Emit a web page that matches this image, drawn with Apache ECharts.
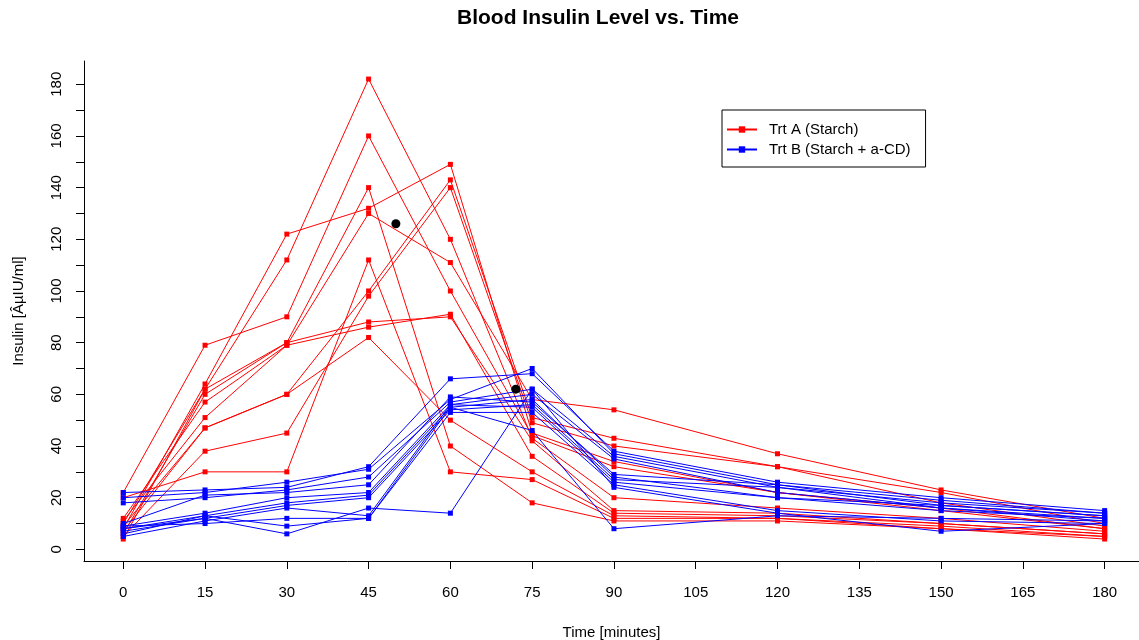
<!DOCTYPE html>
<html>
<head>
<meta charset="utf-8">
<title>Blood Insulin Level vs. Time</title>
<script src="https://cdn.jsdelivr.net/npm/echarts@6/dist/echarts.min.js"></script>
<style>
  html, body { margin: 0; padding: 0; background: #fff; }
  #main { width: 1139px; height: 640px; }
</style>
</head>
<body>
<div id="main"></div>
<script>
// sampling times (minutes)
var times = [0, 15, 30, 45, 60, 75, 90, 120, 150, 180];

// Trt A (Starch) - one row per subject
var trtA = [
	[22, 79, 90, 160, 100, 44, 32, 22, 15, 8],
	[20, 30, 30, 112, 30, 27, 12, 12, 8, 5],
	[8, 64, 122, 132, 149, 45, 34, 22, 16, 8],
	[4, 62, 112, 182, 120, 43, 20, 16, 12, 7],
	[10, 62, 80, 140, 40, 18, 11, 11, 8, 4],
	[6, 60, 80, 88, 90, 42, 15, 14, 10, 6],
	[12, 57, 79, 130, 111, 58, 54, 37, 23, 12],
	[11, 51, 79, 86, 91, 36, 14, 13, 10, 6],
	[9, 47, 60, 100, 143, 51, 43, 32, 22, 10],
	[7, 47, 60, 82, 50, 30, 13, 12, 9, 5],
	[5, 38, 45, 98, 140, 49, 40, 32, 18, 9]
];

// Trt B (Starch + a-CD)
var trtB = [
	[22, 23, 24, 32, 66, 68, 38, 26, 20, 15],
	[20, 22, 26, 31, 58, 70, 37, 25, 19, 14],
	[18, 20, 23, 28, 57, 62, 36, 24, 18, 14],
	[10, 21, 22, 25, 59, 57, 29, 25, 17, 13],
	[9, 14, 20, 22, 56, 60, 35, 22, 16, 12],
	[8, 13, 18, 21, 55, 58, 28, 20, 17, 13],
	[7, 12, 17, 20, 54, 56, 27, 24, 16, 11],
	[5, 11, 16, 13, 56, 55, 26, 20, 15, 12],
	[9, 10, 12, 12, 53, 53, 25, 15, 11, 10],
	[6, 13, 9, 12, 55, 46, 8, 13, 12, 11],
	[8, 12, 6, 16, 14, 62, 24, 14, 7, 10]
];

// mean peak (time, level) markers
var peakMeans = [[50, 126], [72, 62]];

var xTicks = [0, 15, 30, 45, 60, 75, 90, 105, 120, 135, 150, 165, 180];
var yTicks = [0, 10, 20, 30, 40, 50, 60, 70, 80, 90, 100, 110, 120, 130, 140, 150, 160, 170, 180];
var yLabels = [0, 20, 40, 60, 80, 100, 120, 140, 160, 180];

var nameA = 'Trt A (Starch)';
var nameB = 'Trt B (Starch + a-CD)';

function makeSeries(rows, name, color) {
	return rows.map(function (row) {
		return {
			name: name,
			type: 'line',
			silent: true,
			data: times.map(function (t, i) { return [t, row[i]]; }),
			symbol: 'rect',
			symbolSize: 5,
			showSymbol: true,
			itemStyle: { color: color },
			lineStyle: { color: color, width: 1, opacity: 1 },
			emphasis: { disabled: true }
		};
	});
}

var series = makeSeries(trtA, nameA, '#ff0000').concat(makeSeries(trtB, nameB, '#0000ff'));
series.push({
	type: 'scatter',
	silent: true,
	data: peakMeans,
	symbol: 'circle',
	symbolSize: 9,
	itemStyle: { color: '#000', opacity: 1 },
	z: 5
});

var myChart = echarts.init(document.getElementById('main'));

myChart.setOption({
	animation: false,
	textStyle: { fontFamily: 'Liberation Sans, Arial, sans-serif' },
	title: {
		text: 'Blood Insulin Level vs. Time',
		left: 598,
		top: 8,
		textAlign: 'center',
		padding: 0,
		textStyle: { fontSize: 21, fontWeight: 'bold', color: '#000' }
	},
	legend: {
		data: [nameA, nameB],
		orient: 'vertical',
		left: 722,
		top: 110,
		padding: [12, 15, 10, 4],
		itemWidth: 30,
		itemHeight: 8,
		itemGap: 5,
		borderColor: '#000',
		borderWidth: 1,
		textStyle: { fontSize: 15, color: '#000', padding: [0, 0, 0, 7] }
	},
	grid: { left: 84, right: 0, top: 61, bottom: 79, outerBoundsMode: 'none' },
	xAxis: {
		type: 'value',
		min: -7.2,
		max: 186.3,
		name: 'Time [minutes]',
		nameLocation: 'middle',
		nameGap: 64,
		nameTextStyle: { fontSize: 15, color: '#000' },
		axisLine: { onZero: false, lineStyle: { color: '#000', width: 1 } },
		axisTick: { customValues: xTicks, length: 8, lineStyle: { color: '#000' } },
		axisLabel: { customValues: xTicks, fontSize: 15, color: '#000', margin: 24 },
		splitLine: { show: false }
	},
	yAxis: {
		type: 'value',
		min: -4.5,
		max: 189,
		name: 'Insulin [ÂµIU/ml]',
		nameLocation: 'middle',
		nameRotate: 90,
		nameGap: 58,
		nameTextStyle: { fontSize: 15, color: '#000' },
		axisLine: { onZero: false, lineStyle: { color: '#000', width: 1 } },
		axisTick: { customValues: yTicks, length: 8, lineStyle: { color: '#000' } },
		axisLabel: { customValues: yLabels, rotate: 90, fontSize: 15, color: '#000', margin: 20 },
		splitLine: { show: false }
	},
	series: series
});
</script>
</body>
</html>
